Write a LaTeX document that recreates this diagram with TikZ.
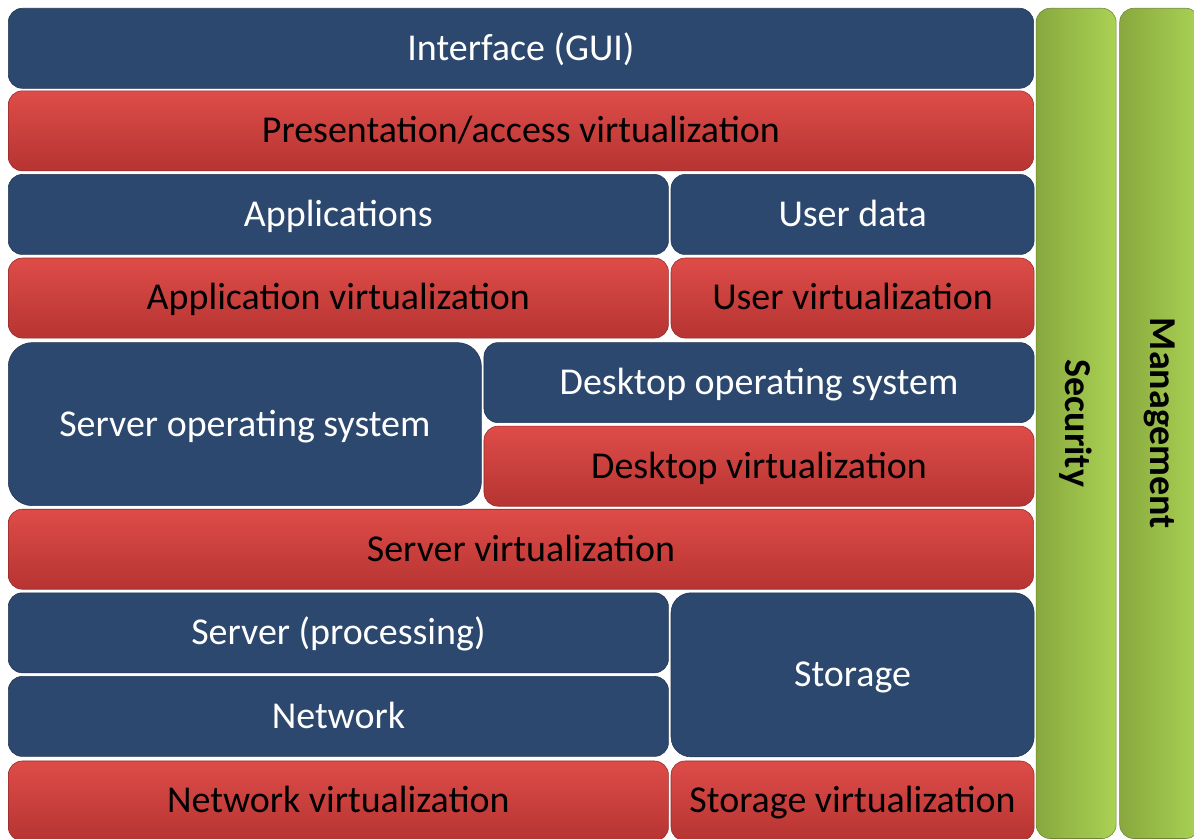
\documentclass[tikz,border=0pt]{standalone}
\usepackage{fontspec}
\setmainfont{Carlito}
\definecolor{virtBlue}{RGB}{44,72,110}
\definecolor{virtRedTop}{RGB}{222,76,72}
\definecolor{virtRedBot}{RGB}{182,52,50}
\definecolor{virtGreenL}{RGB}{136,168,62}
\definecolor{virtGreenR}{RGB}{170,210,84}
\usetikzlibrary{positioning}

\begin{document}
\begin{tikzpicture}[x=0.025cm, y=-0.025cm,
  layer/.style={rounded corners=0.35cm, minimum height=2cm, inner sep=0pt,
                font=\fontsize{27}{32}\selectfont, align=center,
                text height=17pt, text depth=0pt},
  hw/.style={layer, fill=virtBlue, draw=virtBlue!75!black, text=white},
  virt/.style={layer, top color=virtRedTop, bottom color=virtRedBot,
               draw=virtRedBot!80!black, text=black},
  side/.style={layer, left color=virtGreenL, right color=virtGreenR,
               draw=virtGreenL!80!black, minimum width=2cm, minimum height=20.75cm,
               text height=, text depth=,
               font=\fontsize{27}{32}\selectfont\bfseries}
]
  \useasboundingbox (0,0) rectangle (1194,839);

  % top of the stack
  \node[hw, minimum width=25.625cm, anchor=north west] at (8,8) (gui) {Interface (GUI)};
  \node[virt, minimum width=25.625cm, below=0.05cm of gui.south west, anchor=north west] (pres)
    {Presentation/access virtualization};

  % applications and user data
  \node[hw, minimum width=16.5cm, below=0.075cm of pres.south west, anchor=north west] (apps) {Applications};
  \node[hw, minimum width=9.075cm, right=0.05cm of apps] (udata) {User data};
  \node[virt, minimum width=16.5cm, below=0.075cm of apps.south west, anchor=north west] (appv)
    {Application virtualization};
  \node[virt, minimum width=9.075cm, right=0.05cm of appv] (userv) {User virtualization};

  % operating systems
  \node[hw, rounded corners=0.6cm, minimum width=11.825cm, minimum height=4.075cm,
        below=0.1cm of appv.south west, anchor=north west] (sos) {Server operating system};
  \node[hw, minimum width=13.75cm, right=0.05cm of sos.north east, anchor=north west] (dos)
    {Desktop operating system};
  \node[virt, minimum width=13.75cm, below=0.075cm of dos] (desv) {Desktop virtualization};
  \node[virt, minimum width=25.625cm, below=0.075cm of sos.south west, anchor=north west] (srvv)
    {Server virtualization};

  % hardware
  \node[hw, minimum width=16.5cm, below=0.075cm of srvv.south west, anchor=north west] (srv)
    {Server (processing)};
  \node[hw, minimum width=16.5cm, below=0.075cm of srv] (net) {Network};
  \node[hw, rounded corners=0.5cm, minimum width=9.075cm, minimum height=4.1cm,
        right=0.05cm of srv.north east, anchor=north west] (stor) {Storage};
  \node[virt, minimum width=16.5cm, below=0.1cm of net] (netv) {Network virtualization};
  \node[virt, minimum width=9.075cm, right=0.05cm of netv] (storv) {Storage virtualization};

  % cross-cutting columns
  \node[side, right=0.05cm of gui.north east, anchor=north west] (sec) {\rotatebox{-90}{Security}};
  \node[side, right=0.075cm of sec.north east, anchor=north west] (mgmt) {\rotatebox{-90}{Management}};
\end{tikzpicture}
\end{document}
